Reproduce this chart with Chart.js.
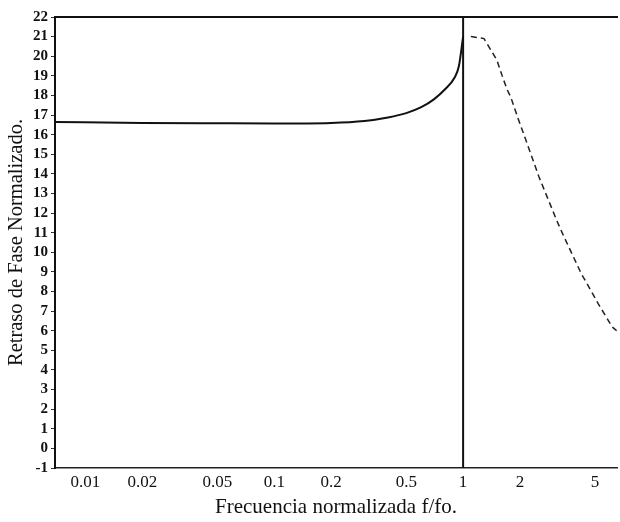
<!DOCTYPE html>
<html>
<head>
<meta charset="utf-8">
<script src="https://cdn.jsdelivr.net/npm/chart.js@4/dist/chart.umd.min.js"></script>
<style>
html,body{margin:0;padding:0;background:#fff;}
#wrap{width:620px;height:522px;position:relative;}
</style>
</head>
<body>
<div id="wrap"><canvas id="c" width="620" height="522"></canvas></div>
<script>
// Normalized frequency f/fo and normalized phase lag
const freqLow   = [0.0069, 0.02, 0.05, 0.1, 0.2, 0.3, 0.4, 0.5, 0.6, 0.7, 0.8, 0.9, 0.95, 1.0];
const phaseLow  = [16.65, 16.6, 16.58, 16.57, 16.6, 16.7, 16.88, 17.1, 17.4, 17.8, 18.3, 18.9, 19.5, 21.0];
const freqHigh  = [1.1, 1.29, 1.51, 1.61, 1.71, 1.79, 1.95, 2.21, 2.52, 3.14, 3.38, 4.21, 5.18, 6.15, 6.5];
const phaseHigh = [21.0, 20.9, 19.8, 19.0, 18.3, 17.9, 16.85, 15.4, 13.85, 11.6, 10.9, 8.94, 7.4, 6.2, 6.0];
const resonanceFreq  = [1, 1];
const resonancePhase = [-1, 22];
const xTickValues = [0.01, 0.02, 0.05, 0.1, 0.2, 0.5, 1, 2, 5];
const xTickLabels = ["0.01", "0.02", "0.05", "0.1", "0.2", "0.5", "1", "2", "5"];
const yTickValues = [-1,0,1,2,3,4,5,6,7,8,9,10,11,12,13,14,15,16,17,18,19,20,21,22];

const toPts = (xs, ys) => xs.map((x, i) => ({x: x, y: ys[i]}));
const serif = "'Liberation Serif', 'DejaVu Serif', serif";

new Chart(document.getElementById('c'), {
  type: 'line',
  data: {
    datasets: [
      { data: toPts(freqLow, phaseLow), borderColor: '#111', borderWidth: 2, pointRadius: 0, cubicInterpolationMode: 'monotone', xAxisID: 'x', yAxisID: 'y' },
      { data: toPts(freqHigh, phaseHigh), borderColor: '#222', borderWidth: 1.5, borderDash: [6, 4], pointRadius: 0, tension: 0, xAxisID: 'x', yAxisID: 'y' },
      { data: toPts(resonanceFreq, resonancePhase), borderColor: '#111', borderWidth: 2, pointRadius: 0, xAxisID: 'x', yAxisID: 'y' }
    ]
  },
  options: {
    responsive: false,
    animation: false,
    layout: { padding: { top: 17, right: 3, left: 0, bottom: 0 } },
    plugins: { legend: { display: false }, tooltip: { enabled: false } },
    scales: {
      x: {
        type: 'logarithmic',
        position: 'bottom',
        min: 0.0069,
        max: 6.53,
        afterBuildTicks: s => { s.ticks = xTickValues.map(v => ({value: v})); },
        afterFit: s => { s.height = 54; },
        ticks: {
          autoSkip: false, maxRotation: 0, padding: 4,
          color: '#111', font: { family: serif, size: 17 },
          callback: (v) => { const i = xTickValues.indexOf(v); return i >= 0 ? xTickLabels[i] : ''; }
        },
        grid: { display: false, drawTicks: false },
        border: { display: true, color: '#222', width: 1.5, dash: [7, 6] },
        title: { display: true, text: 'Frecuencia normalizada f/fo.', color: '#111', font: { family: serif, size: 21 }, padding: { top: 0, bottom: 2 } }
      },
      xTop: {
        type: 'logarithmic',
        position: 'top',
        min: 0.0069,
        max: 6.53,
        afterFit: s => { s.height = 0; },
        ticks: { display: false },
        grid: { display: false },
        border: { display: true, color: '#111', width: 2 }
      },
      y: {
        type: 'linear',
        min: -1,
        max: 22,
        afterBuildTicks: s => { s.ticks = yTickValues.map(v => ({value: v})); },
        afterFit: s => { s.width = 55; },
        ticks: { autoSkip: false, padding: 3, color: '#111', font: { family: serif, size: 15, weight: 'bold' } },
        grid: { display: true, drawOnChartArea: false, drawTicks: true, tickLength: 4, color: '#333' },
        border: { display: true, color: '#111', width: 2 },
        title: { display: true, text: 'Retraso de Fase Normalizado.', color: '#111', font: { family: serif, size: 20.5 }, padding: { top: 4, bottom: 0 } }
      }
    }
  }
});
</script>
</body>
</html>
